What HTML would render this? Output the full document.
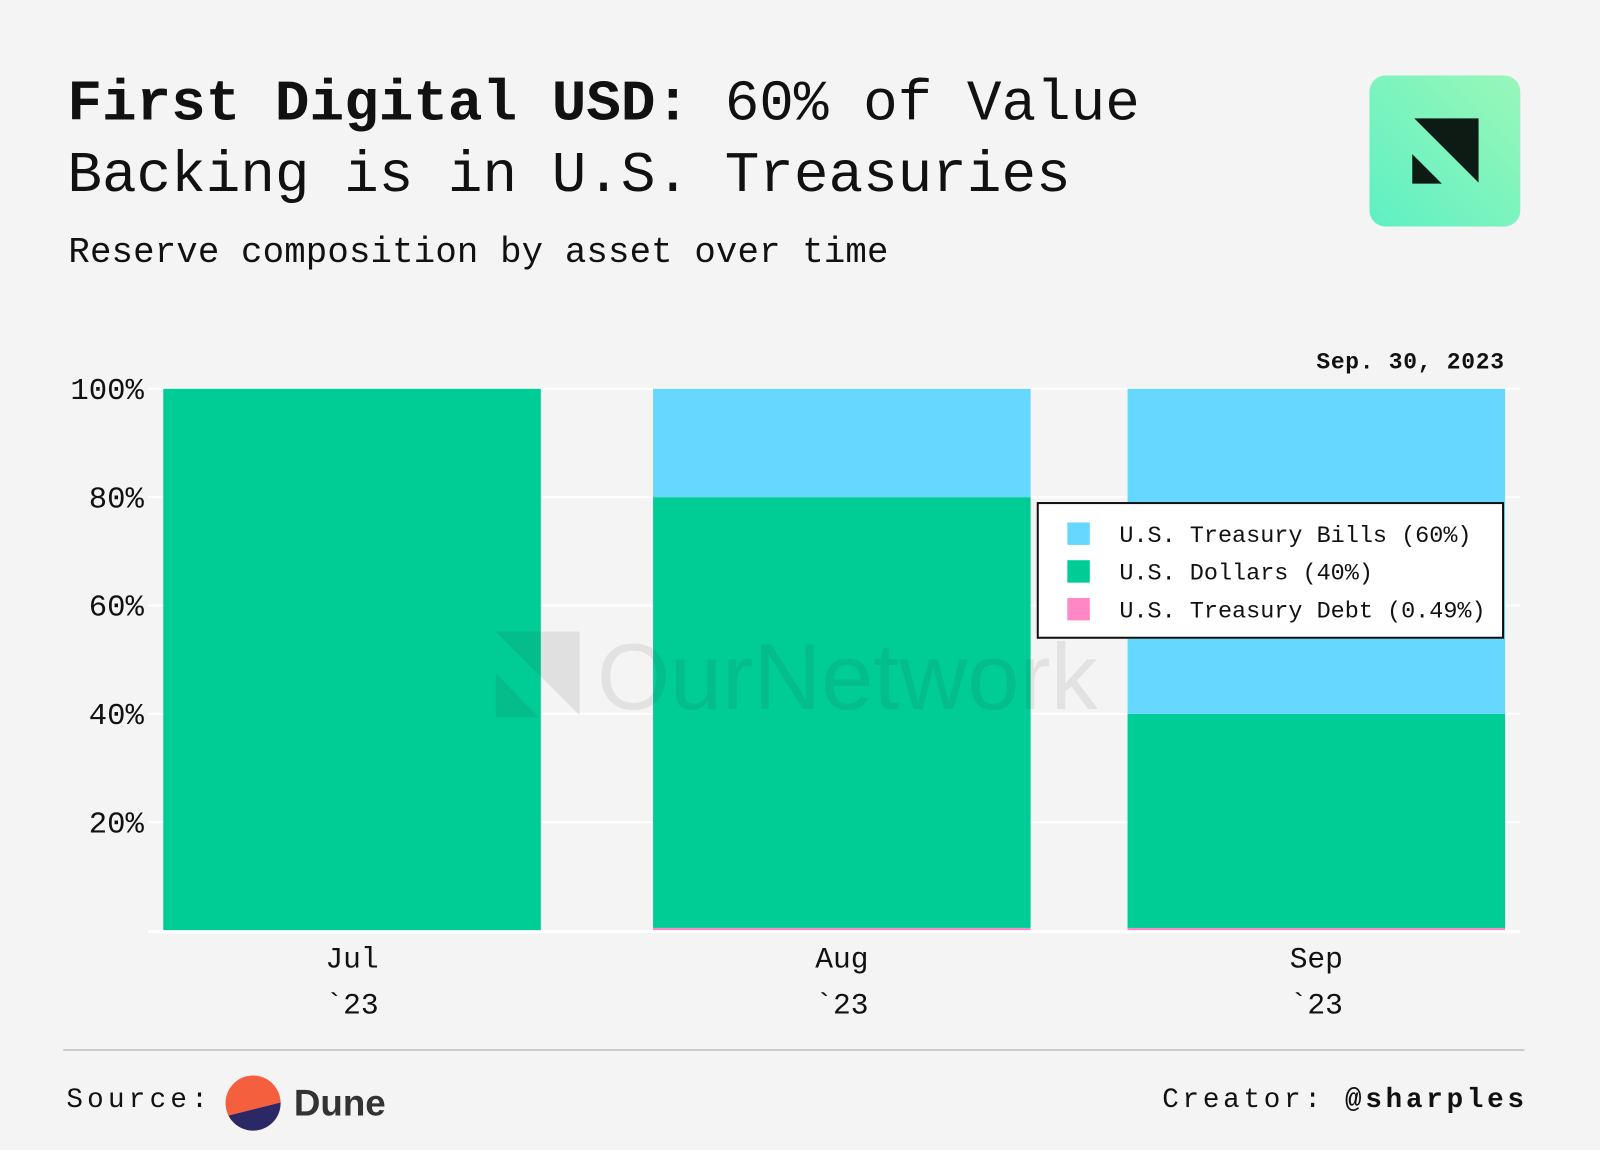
<!DOCTYPE html>
<html><head><meta charset="utf-8"><style>
html,body{margin:0;padding:0;background:#f4f4f4;overflow:hidden;}
#wrap{position:absolute;left:0;top:0;width:1568px;height:1127px;transform:scale(1.020408);transform-origin:0 0;font-family:"Liberation Mono",monospace;color:#111;}
.t{position:absolute;white-space:nowrap;}
</style></head><body>
<div id="wrap">
<div class="t" style="left:66px;top:67px;font-size:56.5px;line-height:70px;"><b>First Digital USD:</b> 60% of Value<br>Backing is in U.S. Treasuries</div>
<div class="t" style="left:67px;top:228px;font-size:35px;letter-spacing:0.15px;">Reserve composition by asset over time</div>
<svg style="position:absolute;left:1342px;top:74px" width="148" height="148">
<defs><linearGradient id="lg" x1="1" y1="0" x2="0" y2="1"><stop offset="0" stop-color="#9af7b8"/><stop offset="1" stop-color="#5ef0c4"/></linearGradient></defs>
<rect width="148" height="148" rx="16" fill="url(#lg)"/>
<polygon points="44,42 107,42 107,105" fill="#0e1a14"/>
<polygon points="42,77 42,106 71,106" fill="#0e1a14"/>
</svg>
<svg id="plot" style="position:absolute;left:0;top:0" width="1568" height="1127"></svg>
<div class="t" style="left:1290px;top:342px;font-size:22.5px;letter-spacing:0.7px;font-weight:bold;">Sep. 30, 2023</div>
<div style="position:absolute;left:1016px;top:492px;width:458px;height:134px;border:2px solid #111;background:#fff;box-sizing:border-box;font-size:23px;">
<div class="t" style="left:28px;top:18px;"><span style="display:inline-block;width:22px;height:22px;background:#66d7fe;vertical-align:-3px;margin-right:29px;"></span>U.S. Treasury Bills (60%)</div>
<div class="t" style="left:28px;top:55px;"><span style="display:inline-block;width:22px;height:22px;background:#00cc96;vertical-align:-3px;margin-right:29px;"></span>U.S. Dollars (40%)</div>
<div class="t" style="left:28px;top:92px;"><span style="display:inline-block;width:22px;height:22px;background:#ff87c6;vertical-align:-3px;margin-right:29px;"></span>U.S. Treasury Debt (0.49%)</div>
</div>
<div style="position:absolute;left:62px;top:1028px;width:1432px;height:2px;background:#ccc;"></div>
<div class="t" style="left:65px;top:1064px;font-size:27px;letter-spacing:4.2px;">Source:</div>
<svg style="position:absolute;left:221px;top:1054px" width="56" height="56"><clipPath id="c"><circle cx="27" cy="27" r="27"/></clipPath><g clip-path="url(#c)"><rect width="56" height="56" fill="#f4603e"/><polygon points="0,40 56,26 56,56 0,56" fill="#2b2965"/></g></svg>
<div class="t" style="left:288px;top:1060px;font-family:'Liberation Sans',sans-serif;font-weight:bold;font-size:36px;color:#333;">Dune</div>
<div class="t" style="left:1139px;top:1064px;font-size:27px;letter-spacing:3.7px;">Creator: <b>@sharples</b></div>
</div>
<script>
const categories=["Jul","Aug","Sep"];
const debt=[0,0.5,0.49];
const dollars=[100,79.5,39.51];
const bills=[0,20,60];
const yTicks=[20,40,60,80,100];
const NS="http://www.w3.org/2000/svg";
const svg=document.getElementById('plot');
const y0=912,y100=381;
const y=v=>y0-(y0-y100)*v/100;
const barX=[160,640,1105],barW=370;
function el(tag,attrs){const e=document.createElementNS(NS,tag);for(const k in attrs)e.setAttribute(k,attrs[k]);svg.appendChild(e);return e;}
yTicks.forEach(v=>{
 const g=el('line',{x1:145,x2:1490,y1:y(v),y2:y(v),stroke:'#fff','stroke-width':2});
 
 
 const t=el('text',{x:141,y:y(v)+10,'text-anchor':'end','font-size':30,'font-family':'Liberation Mono,monospace',fill:'#111'});
 t.textContent=v+'%';
 
 
});
categories.forEach((c,i)=>{
 const x=barX[i];let base=0;
 [[debt[i],'#ff87c6','debt'],[dollars[i],'#00cc96','dollars'],[bills[i],'#66d7fe','bills']].forEach(([v,col,n])=>{
  if(v<=0)return;
  const r=el('rect',{x:x,y:y(base+v),width:barW,height:y(base)-y(base+v),fill:col});
  
  
  base+=v;
 });
 const t1=el('text',{x:x+barW/2,y:948,'text-anchor':'middle','font-size':29,'font-family':'Liberation Mono,monospace',fill:'#111'});
 t1.textContent=c;
 
 
 const t2=el('text',{x:x+barW/2,y:993,'text-anchor':'middle','font-size':29,'font-family':'Liberation Mono,monospace',fill:'#111'});
 t2.textContent='`23';
 
 
});
el('line',{x1:145,x2:1490,y1:913,y2:913,stroke:'#fff','stroke-width':3});
el('polygon',{points:'486,619 568,619 568,701',fill:'#333',opacity:0.1});
el('polygon',{points:'486,660 486,703 528,703',fill:'#333',opacity:0.1});
const wt=el('text',{x:585,y:695,'font-size':92,'font-family':'Liberation Sans,sans-serif',fill:'#333',opacity:0.09});
wt.textContent='OurNetwork';


</script>
</body></html>
